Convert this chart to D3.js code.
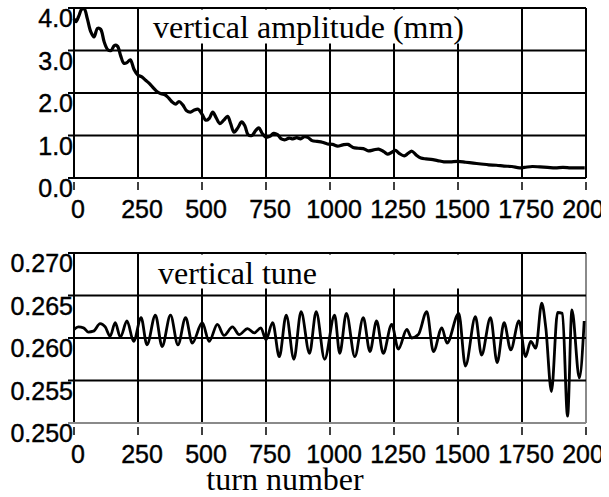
<!DOCTYPE html>
<html>
<head>
<meta charset="utf-8">
<script src="https://cdn.jsdelivr.net/npm/d3@7"></script>
<style>
  body { margin: 0; background: #fff; }
  svg { display: block; }
</style>
</head>
<body>
<script>
// ---- data ----
var xTicks = [0, 250, 500, 750, 1000, 1250, 1500, 1750, 2000];
var xTickLabels = ["0", "250", "500", "750", "1000", "1250", "1500", "1750", "2000"];

var ampTicks = [0, 1, 2, 3, 4];
var ampTickLabels = ["0.0", "1.0", "2.0", "3.0", "4.0"];

var tuneTicks = [0.250, 0.255, 0.260, 0.265, 0.270];
var tuneTickLabels = ["0.250", "0.255", "0.260", "0.265", "0.270"];

// vertical amplitude (mm) vs turn
var ampTurns = [0, 8, 18, 30, 40, 52, 65, 78, 92, 104, 118, 132, 145, 158, 170, 182, 195, 208, 220, 235,
  250, 265, 280, 295, 310, 325, 340, 355, 370, 385, 398, 410, 425, 440, 455, 470, 485, 500, 515, 528,
  542, 555, 570, 585, 600, 612, 625, 640, 655, 668, 680, 695, 710, 722, 735, 750, 765, 780, 795, 810,
  825, 840, 855, 870, 885, 900, 915, 930, 950, 970, 990, 1010, 1030, 1050, 1070, 1090, 1110, 1130, 1150, 1170,
  1190, 1210, 1225, 1240, 1255, 1270, 1290, 1305, 1320, 1335, 1355, 1375, 1395, 1420, 1445, 1470, 1500, 1530, 1560, 1590,
  1620, 1650, 1680, 1710, 1740, 1760, 1790, 1820, 1850, 1880, 1910, 1940, 1970, 1995];
var ampValues = [3.75, 3.68, 3.80, 3.97, 3.98, 3.75, 3.45, 3.32, 3.52, 3.50, 3.20, 3.02, 3.00, 3.12, 3.10, 2.88, 2.70, 2.72, 2.78, 2.55,
  2.42, 2.38, 2.30, 2.22, 2.12, 2.03, 1.98, 1.96, 1.88, 1.78, 1.74, 1.80, 1.72, 1.58, 1.55, 1.60, 1.62, 1.50, 1.36, 1.40,
  1.55, 1.42, 1.28, 1.36, 1.45, 1.28, 1.08, 1.18, 1.32, 1.22, 1.02, 1.00, 1.12, 1.18, 1.05, 0.96, 0.98, 1.05, 1.02, 0.92,
  0.90, 0.94, 0.92, 0.95, 0.92, 0.97, 0.95, 0.88, 0.86, 0.84, 0.80, 0.79, 0.75, 0.78, 0.79, 0.72, 0.70, 0.69, 0.64, 0.66,
  0.68, 0.62, 0.56, 0.60, 0.65, 0.58, 0.52, 0.58, 0.63, 0.55, 0.47, 0.45, 0.44, 0.41, 0.38, 0.38, 0.39, 0.37, 0.35, 0.33,
  0.31, 0.30, 0.28, 0.27, 0.24, 0.25, 0.27, 0.26, 0.25, 0.24, 0.25, 0.24, 0.24, 0.24];

// vertical tune vs turn
var tuneTurns = [0, 17, 37, 56, 76, 102, 122, 141, 161, 181, 207, 233, 262, 285, 318, 344, 377, 406, 436, 462,
  501, 528, 560, 586, 619, 645, 678, 704, 730, 750, 776, 802, 829, 859, 887, 920, 946, 979, 1018, 1038,
  1064, 1097, 1130, 1156, 1182, 1208, 1241, 1267, 1300, 1319, 1345, 1378, 1404, 1437, 1457, 1503, 1529, 1568, 1592, 1627,
  1653, 1680, 1706, 1738, 1764, 1784, 1804, 1827, 1843, 1865, 1889, 1908, 1928, 1945, 1974, 1993];
var tuneValues = [0.2610, 0.2613, 0.2612, 0.2607, 0.2608, 0.2617, 0.2613, 0.2602, 0.2618, 0.2601, 0.2620, 0.2596, 0.2624, 0.2592, 0.2627, 0.2590, 0.2627, 0.2592, 0.2624, 0.2594,
  0.2618, 0.2596, 0.2616, 0.2603, 0.2613, 0.2604, 0.2611, 0.2606, 0.2612, 0.2598, 0.2618, 0.2578, 0.2627, 0.2575, 0.2631, 0.2582, 0.2631, 0.2575, 0.2627, 0.2582,
  0.2629, 0.2578, 0.2624, 0.2584, 0.2620, 0.2582, 0.2616, 0.2587, 0.2610, 0.2600, 0.2604, 0.2631, 0.2584, 0.2612, 0.2594, 0.2629, 0.2567, 0.2625, 0.2580, 0.2624,
  0.2571, 0.2618, 0.2586, 0.2620, 0.2578, 0.2596, 0.2588, 0.2641, 0.2612, 0.2537, 0.2630, 0.2629, 0.2508, 0.2633, 0.2553, 0.2620];

// ---- chart ----
var W = 609, H = 497;
var sansFont = "'Liberation Sans', Arial, sans-serif";
var serifFont = "'Liberation Serif', 'Times New Roman', serif";

var svg = d3.select("body").append("svg")
  .attr("width", W)
  .attr("height", H);

// the last tick label is cut short in the original figure
svg.append("defs").append("clipPath")
  .attr("id", "pageclip")
  .append("rect")
    .attr("x", 0).attr("y", 0)
    .attr("width", 601).attr("height", H);

var x = d3.scaleLinear().domain([0, 2000]).range([74, 586]);

function drawPanel(opts) {
  var y = d3.scaleLinear().domain(opts.domain).range([opts.bottom, opts.top]);
  var g = svg.append("g").attr("class", opts.name);
  var edge = opts.edgeColor

  // vertical grid
  g.append("g").selectAll("line")
    .data(xTicks)
    .enter().append("line")
      .attr("x1", function(d) { return x(d) })
      .attr("x2", function(d) { return x(d) })
      .attr("y1", opts.top)
      .attr("y2", opts.bottom)
      .attr("stroke", function(d) { return d === 2000 ? edge : "#000" })
      .attr("stroke-width", 2)

  // horizontal grid + little ticks on the left
  g.append("g").selectAll("line")
    .data(opts.ticks)
    .enter().append("line")
      .attr("x1", 68)
      .attr("x2", x(2000))
      .attr("y1", function(d) { return y(d) })
      .attr("y2", function(d) { return y(d) })
      .attr("stroke", function(d, i) { return i === 0 ? edge : "#000" })
      .attr("stroke-width", 2)

  // white box behind the title
  var boxTop = opts.top + 1.5
  var boxBottom = y(opts.ticks[opts.ticks.length - 2]) - 7
  g.append("rect")
    .attr("x", x(250) + 6)
    .attr("y", boxTop)
    .attr("width", x(1500) + 16 - (x(250) + 6))
    .attr("height", boxBottom - boxTop)
    .attr("fill", "#fff")

  g.append("text")
    .attr("x", opts.titleX)
    .attr("y", opts.titleY)
    .attr("font-family", serifFont)
    .attr("font-size", 32)
    .attr("fill", "#000")
    .text(opts.title)

  // tick marks below
  g.append("g").selectAll("line")
    .data(xTicks)
    .enter().append("line")
      .attr("x1", function(d) { return x(d) })
      .attr("x2", function(d) { return x(d) })
      .attr("y1", opts.bottom + 4)
      .attr("y2", opts.bottom + 12)
      .attr("stroke", "#000")
      .attr("stroke-width", 1.5)

  // x labels
  g.append("g").attr("clip-path", "url(#pageclip)")
    .selectAll("text")
    .data(xTicks)
    .enter().append("text")
      .attr("x", function(d) { return x(d) + 4 })
      .attr("y", opts.bottom + 40)
      .attr("text-anchor", "middle")
      .attr("font-family", sansFont)
      .attr("font-size", 25)
      .attr("fill", "#000")
      .attr("stroke", "#000")
      .attr("stroke-width", 0.4)
      .text(function(d, i) { return xTickLabels[i] })

  // y labels
  g.append("g").selectAll("text")
    .data(opts.ticks)
    .enter().append("text")
      .attr("x", 73)
      .attr("y", function(d) { return y(d) + 19 })
      .attr("text-anchor", "end")
      .attr("font-family", sansFont)
      .attr("font-size", 25)
      .attr("fill", "#000")
      .attr("stroke", "#000")
      .attr("stroke-width", 0.4)
      .text(function(d, i) { return opts.tickLabels[i] })

  // data trace
  var line = d3.line()
    .x(function(d) { return x(d[0]) })
    .y(function(d) { return y(d[1]) })
    .curve(opts.curve)

  g.append("path")
    .datum(d3.zip(opts.turns, opts.values))
    .attr("d", line)
    .attr("fill", "none")
    .attr("stroke", "#000")
    .attr("stroke-width", opts.lineWidth)
    .attr("stroke-linejoin", "round")
}

drawPanel({
  name: "amplitude",
  top: 8, bottom: 178,
  domain: [0, 4],
  ticks: ampTicks, tickLabels: ampTickLabels,
  title: "vertical amplitude (mm)", titleX: 153, titleY: 38,
  turns: ampTurns, values: ampValues,
  curve: d3.curveCatmullRom.alpha(0.5),
  lineWidth: 3.2,
  edgeColor: "#000"
})

drawPanel({
  name: "tune",
  top: 253, bottom: 423,
  domain: [0.250, 0.270],
  ticks: tuneTicks, tickLabels: tuneTickLabels,
  title: "vertical tune", titleX: 158, titleY: 284,
  turns: tuneTurns, values: tuneValues,
  curve: d3.curveMonotoneX,
  lineWidth: 2.8,
  edgeColor: "#8a8a8a"
})

svg.append("text")
  .attr("x", 285)
  .attr("y", 490)
  .attr("text-anchor", "middle")
  .attr("font-family", serifFont)
  .attr("font-size", 32)
  .attr("fill", "#000")
  .text("turn number")
</script>
</body>
</html>
